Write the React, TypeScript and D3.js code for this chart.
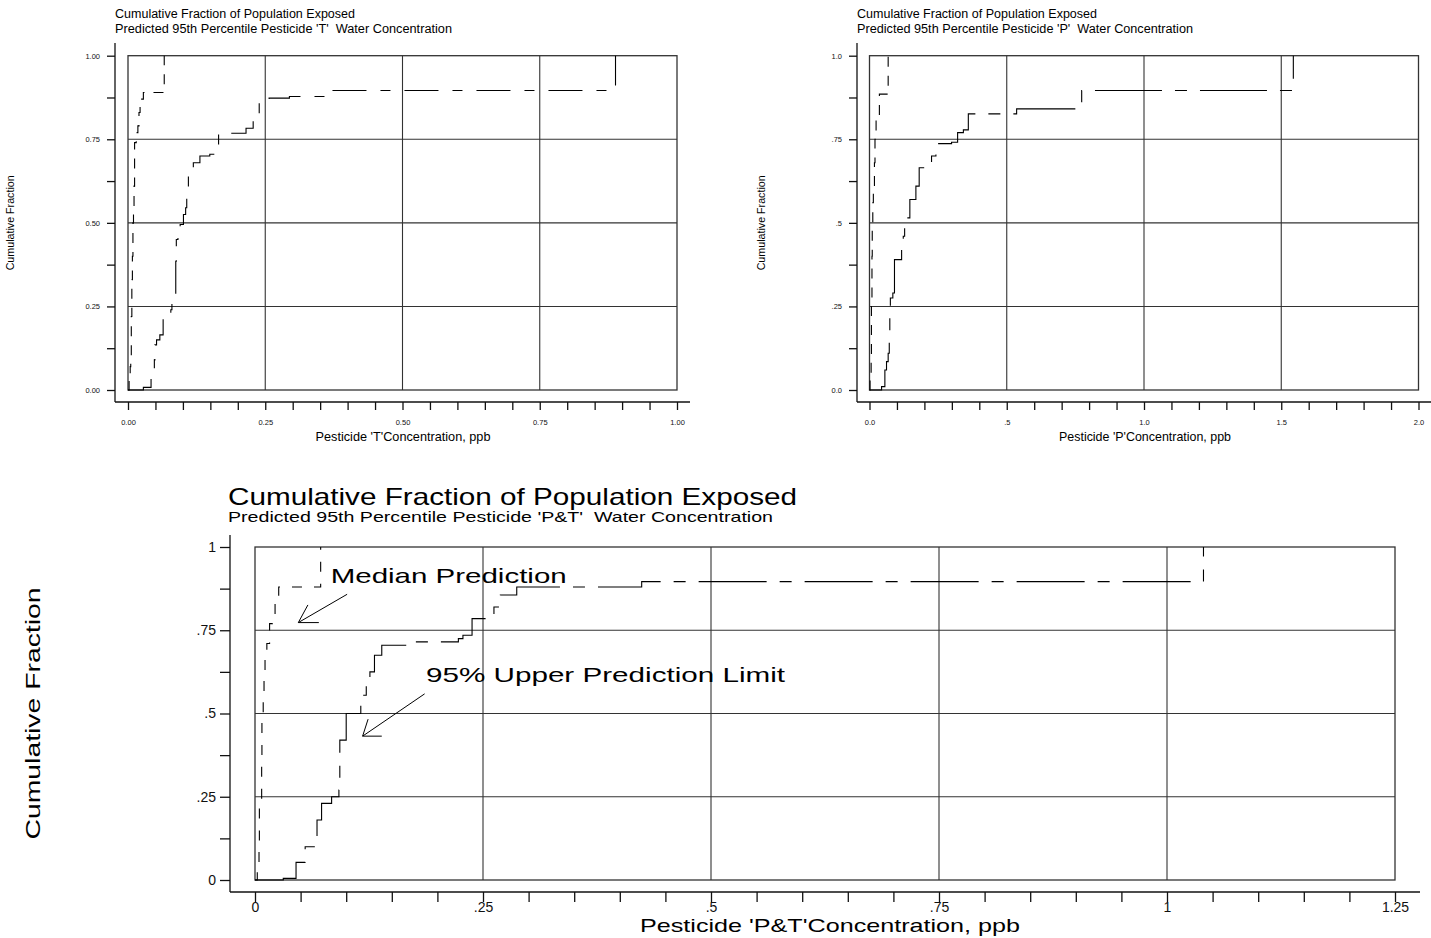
import React, { useRef, useEffect } from 'react';
import * as d3 from 'd3';

const FONT = '"Liberation Sans", Arial, sans-serif';

// step points of the cumulative distributions: [concentration (ppb), cumulative fraction]
const medianT: number[][] = [
  [0.000, 0.00], [0.002, 0.04], [0.004, 0.07], [0.005, 0.10], [0.006, 0.15], [0.006, 0.22],
  [0.007, 0.27], [0.007, 0.33], [0.008, 0.40], [0.009, 0.47], [0.009, 0.50], [0.010, 0.55],
  [0.011, 0.61], [0.012, 0.68], [0.012, 0.74], [0.015, 0.77], [0.018, 0.79], [0.020, 0.83],
  [0.022, 0.87], [0.028, 0.89], [0.066, 0.91], [0.066, 1.00],
];
const uplT: number[][] = [
  [0.000, 0.000], [0.028, 0.008], [0.042, 0.060], [0.048, 0.090], [0.049, 0.135], [0.052, 0.150],
  [0.058, 0.165], [0.064, 0.220], [0.078, 0.240], [0.080, 0.270], [0.087, 0.320], [0.087, 0.385],
  [0.088, 0.450], [0.091, 0.480], [0.095, 0.495], [0.101, 0.525], [0.105, 0.545], [0.107, 0.580],
  [0.110, 0.650], [0.119, 0.680], [0.131, 0.700], [0.149, 0.705], [0.160, 0.713], [0.165, 0.768],
  [0.215, 0.783], [0.228, 0.818], [0.239, 0.863], [0.257, 0.873], [0.294, 0.878], [0.370, 0.896],
  [0.888, 1.000],
];
const medianP: number[][] = [
  [0.000, 0.000], [0.002, 0.040], [0.006, 0.090], [0.007, 0.250], [0.009, 0.400], [0.010, 0.500],
  [0.012, 0.560], [0.014, 0.610], [0.018, 0.680], [0.020, 0.750], [0.024, 0.820], [0.036, 0.885],
  [0.068, 1.000],
];
const uplP: number[][] = [
  [0.000, 0.000], [0.044, 0.010], [0.056, 0.060], [0.062, 0.085], [0.068, 0.110], [0.072, 0.170],
  [0.074, 0.235], [0.076, 0.275], [0.085, 0.290], [0.091, 0.390], [0.117, 0.425], [0.123, 0.460],
  [0.128, 0.485], [0.137, 0.515], [0.147, 0.570], [0.169, 0.610], [0.181, 0.665], [0.226, 0.700],
  [0.242, 0.737], [0.299, 0.741], [0.321, 0.770], [0.342, 0.778], [0.360, 0.826], [0.536, 0.841],
  [0.773, 0.896], [1.544, 1.000],
];
const medianPT: number[][] = [
  [0.0000, 0.00], [0.0025, 0.03], [0.0044, 0.10], [0.0048, 0.22], [0.0073, 0.29], [0.0073, 0.37],
  [0.0076, 0.47], [0.0090, 0.55], [0.0099, 0.60], [0.0110, 0.67], [0.0130, 0.71], [0.0160, 0.72],
  [0.0160, 0.77], [0.0190, 0.79], [0.0220, 0.85], [0.0260, 0.88], [0.0720, 1.00],
];
const uplPT: number[][] = [
  [0.000, 0.000], [0.031, 0.005], [0.045, 0.053], [0.055, 0.100], [0.065, 0.130], [0.068, 0.180],
  [0.073, 0.230], [0.084, 0.250], [0.092, 0.270], [0.093, 0.420], [0.100, 0.470], [0.100, 0.500],
  [0.116, 0.555], [0.122, 0.585], [0.126, 0.625], [0.131, 0.675], [0.139, 0.705], [0.166, 0.710],
  [0.177, 0.715], [0.223, 0.725], [0.228, 0.735], [0.238, 0.785], [0.262, 0.820], [0.269, 0.856],
  [0.287, 0.880], [0.424, 0.896], [1.040, 1.000],
];

// tick values and labels
const yTicks = [0, 0.25, 0.5, 0.75, 1];
const yLabelsT = ['0.00', '0.25', '0.50', '0.75', '1.00'];
const yLabelsP = ['0.0', '.25', '.5', '.75', '1.0'];
const yLabelsPT = ['0', '.25', '.5', '.75', '1'];
const xTicksT = [0, 0.25, 0.5, 0.75, 1];
const xLabelsT = ['0.00', '0.25', '0.50', '0.75', '1.00'];
const xTicksP = [0, 0.5, 1, 1.5, 2];
const xLabelsP = ['0.0', '.5', '1.0', '1.5', '2.0'];
const xTicksPT = [0, 0.25, 0.5, 0.75, 1, 1.25];
const xLabelsPT = ['0', '.25', '.5', '.75', '1', '1.25'];

// annotations on the combined chart (data units)
const noteLabels = ['Median Prediction', '95% Upper Prediction Limit'];
const noteTextAt = [[0.083, 0.892], [0.1875, 0.595]];
const noteTails = [[0.101, 0.858], [0.186, 0.559]];
const noteTips = [[0.0475, 0.773], [0.118, 0.432]];
const noteBarbs = [[[0.070, 0.773], [0.058, 0.826]], [[0.139, 0.432], [0.124, 0.483]]];

const panels = [
  {
    left: 128, right: 677, top: 55.7, bottom: 390,
    axisX: 115, axisTop: 43, axisY: 402, axisRight: 690,
    xMax: 1, xMajor: xTicksT, xLabels: xLabelsT, minorStep: 0.05, yLabels: yLabelsT,
    tickLen: 8, tickFont: 7.5, xPad: 10, yPad: 7,
    title: ['Cumulative Fraction of Population Exposed', "Predicted 95th Percentile Pesticide 'T'  Water Concentration"],
    titleX: 115, titleY: [18, 33], titleFont: [12.5, 12.5], titleLen: [240, 337],
    yLabelX: 14, yLabelFont: 10.7, yLabelLen: 95,
    xLabel: "Pesticide 'T'Concentration, ppb", xLabelX: 403, xLabelY: 441, xLabelFont: 12.7, xLabelLen: 175,
    median: medianT, upl: uplT, medianDash: '10 9', uplDash: '34 14 10 14',
  },
  {
    left: 869.5, right: 1418.5, top: 55.7, bottom: 390,
    axisX: 857, axisTop: 43, axisY: 402, axisRight: 1431,
    xMax: 2, xMajor: xTicksP, xLabels: xLabelsP, minorStep: 0.1, yLabels: yLabelsP,
    tickLen: 8, tickFont: 7.5, xPad: 10, yPad: 7,
    title: ['Cumulative Fraction of Population Exposed', "Predicted 95th Percentile Pesticide 'P'  Water Concentration"],
    titleX: 857, titleY: [18, 33], titleFont: [12.5, 12.5], titleLen: [240, 336],
    yLabelX: 765, yLabelFont: 10.7, yLabelLen: 95,
    xLabel: "Pesticide 'P'Concentration, ppb", xLabelX: 1145, xLabelY: 441, xLabelFont: 12.7, xLabelLen: 172,
    median: medianP, upl: uplP, medianDash: '10 9', uplDash: '67 13 12 13',
  },
  {
    left: 255, right: 1395, top: 547, bottom: 880,
    axisX: 230, axisTop: 535, axisY: 892, axisRight: 1420,
    xMax: 1.25, xMajor: xTicksPT, xLabels: xLabelsPT, minorStep: 0.05, yLabels: yLabelsPT,
    tickLen: 10, tickFont: 14, xPad: 0, yPad: 4,
    title: ['Cumulative Fraction of Population Exposed', "Predicted 95th Percentile Pesticide 'P&T'  Water Concentration"],
    titleX: 228, titleY: [505, 522], titleFont: [24, 15], titleLen: [569, 545],
    yLabelX: 40, yLabelFont: 21, yLabelLen: 252,
    xLabel: "Pesticide 'P&T'Concentration, ppb", xLabelX: 830, xLabelY: 932, xLabelFont: 19, xLabelLen: 380,
    median: medianPT, upl: uplPT, medianDash: '10 12', uplDash: '68 13 12 13',
  },
];

const drawPanel = (svg: any, p: any, withNotes: boolean) => {
  const x = d3.scaleLinear().domain([0, p.xMax]).range([p.left, p.right]);
  const y = d3.scaleLinear().domain([0, 1]).range([p.bottom, p.top]);
  const g = svg.append('g').attr('font-family', FONT);
  const lineColor = '#333';

  // grid lines
  g.append('g').selectAll('line')
    .data(p.xMajor.slice(1, -1))
    .enter().append('line')
    .attr('x1', (d: number) => x(d)).attr('x2', (d: number) => x(d))
    .attr('y1', p.top).attr('y2', p.bottom)
    .attr('stroke', lineColor).attr('stroke-width', 1.1);
  g.append('g').selectAll('line')
    .data(yTicks.slice(1, -1))
    .enter().append('line')
    .attr('x1', p.left).attr('x2', p.right)
    .attr('y1', (d: number) => y(d)).attr('y2', (d: number) => y(d))
    .attr('stroke', lineColor).attr('stroke-width', 1.1);
  g.append('rect')
    .attr('x', p.left).attr('y', p.top)
    .attr('width', p.right - p.left).attr('height', p.bottom - p.top)
    .attr('fill', 'none').attr('stroke', lineColor).attr('stroke-width', 1.3);

  // y axis, ticks every eighth
  const yVals = d3.range(0, 9).map(i => i / 8);
  const yAxis = d3.axisLeft(y)
    .tickValues(yVals)
    .tickFormat((d: any) => {
      const i = yTicks.findIndex(t => Math.abs(t - d) < 1e-6);
      return i >= 0 ? p.yLabels[i] : '';
    })
    .tickSize(p.tickLen)
    .tickPadding(p.yPad);
  const ya = g.append('g').attr('transform', `translate(${p.axisX},0)`).call(yAxis);
  ya.select('.domain').remove();
  ya.attr('font-family', FONT).attr('font-size', p.tickFont).attr('color', '#111');
  ya.selectAll('line').attr('stroke-width', 1.3);

  // x axis with minor ticks
  const nMinor = Math.round(p.xMax / p.minorStep);
  const xVals = d3.range(0, nMinor + 1).map(i => i * p.minorStep);
  const xAxis = d3.axisBottom(x)
    .tickValues(xVals)
    .tickFormat((d: any) => {
      const i = p.xMajor.findIndex((t: number) => Math.abs(t - d) < 1e-6);
      return i >= 0 ? p.xLabels[i] : '';
    })
    .tickSize(p.tickLen)
    .tickPadding(p.xPad);
  const xa = g.append('g').attr('transform', `translate(0,${p.axisY})`).call(xAxis);
  xa.select('.domain').remove();
  xa.attr('font-family', FONT).attr('font-size', p.tickFont).attr('color', '#111');
  xa.selectAll('line').attr('stroke-width', 1.3);

  g.append('line')
    .attr('x1', p.axisX).attr('x2', p.axisX).attr('y1', p.axisTop).attr('y2', p.axisY)
    .attr('stroke', '#111').attr('stroke-width', 1.3);
  g.append('line')
    .attr('x1', p.axisX).attr('x2', p.axisRight).attr('y1', p.axisY).attr('y2', p.axisY)
    .attr('stroke', '#111').attr('stroke-width', 1.3);

  // titles (keep the double space before "Water")
  p.title.forEach((t: string, i: number) => {
    g.append('text')
      .attr('x', p.titleX).attr('y', p.titleY[i])
      .attr('font-size', p.titleFont[i])
      .attr('textLength', p.titleLen[i]).attr('lengthAdjust', 'spacingAndGlyphs')
      .attr('xml:space', 'preserve')
      .style('white-space', 'pre')
      .text(t);
  });

  // axis labels
  const yMid = (p.top + p.bottom) / 2;
  g.append('text')
    .attr('transform', `translate(${p.yLabelX},${yMid}) rotate(-90)`)
    .attr('text-anchor', 'middle')
    .attr('font-size', p.yLabelFont)
    .attr('textLength', p.yLabelLen).attr('lengthAdjust', 'spacingAndGlyphs')
    .text('Cumulative Fraction');
  g.append('text')
    .attr('x', p.xLabelX).attr('y', p.xLabelY)
    .attr('text-anchor', 'middle')
    .attr('font-size', p.xLabelFont)
    .attr('textLength', p.xLabelLen).attr('lengthAdjust', 'spacingAndGlyphs')
    .text(p.xLabel);

  // cumulative step curves
  const step = d3.line<number[]>()
    .x(d => x(d[0]))
    .y(d => y(d[1]))
    .curve(d3.curveStepAfter);
  g.append('path')
    .attr('d', step(p.median))
    .attr('fill', 'none').attr('stroke', '#000').attr('stroke-width', 1.1)
    .attr('stroke-dasharray', p.medianDash);
  g.append('path')
    .attr('d', step(p.upl))
    .attr('fill', 'none').attr('stroke', '#000').attr('stroke-width', 1.1)
    .attr('stroke-dasharray', p.uplDash);

  if (withNotes) {
    noteLabels.forEach((label, i) => {
      g.append('text')
        .attr('x', x(noteTextAt[i][0])).attr('y', y(noteTextAt[i][1]))
        .attr('font-size', 21)
        .attr('textLength', i === 0 ? 236 : 359).attr('lengthAdjust', 'spacingAndGlyphs')
        .text(label);
      const tip = noteTips[i];
      [noteTails[i], ...noteBarbs[i]].forEach(pt => {
        g.append('line')
          .attr('x1', x(tip[0])).attr('y1', y(tip[1]))
          .attr('x2', x(pt[0])).attr('y2', y(pt[1]))
          .attr('stroke', '#000').attr('stroke-width', 1);
      });
    });
  }
};

const App = () => {
  const svgRef = useRef<SVGSVGElement>(null);

  useEffect(() => {
    const svg = d3.select(svgRef.current);
    svg.selectAll('*').remove();
    svg.append('rect').attr('width', 1431).attr('height', 938).attr('fill', '#fff');
    panels.forEach((p, i) => drawPanel(svg, p, i === 2));
  }, []);

  return (
    <svg
      ref={svgRef}
      width={1431}
      height={938}
      style={{ position: 'absolute', left: 0, top: 0, display: 'block' }}
    />
  );
};

export default App;
